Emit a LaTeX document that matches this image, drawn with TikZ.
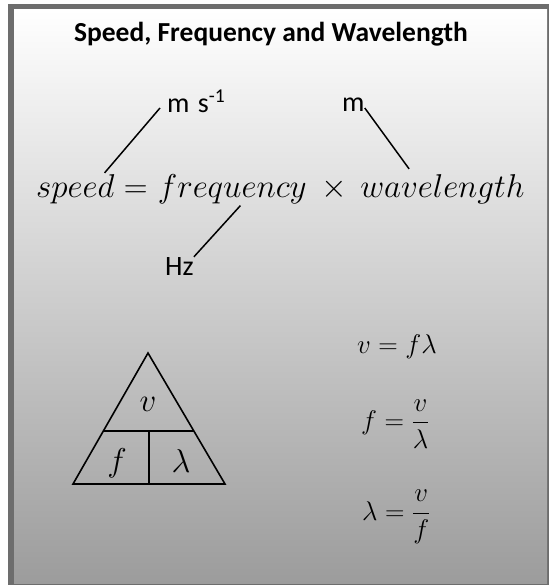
\RequirePackage{fix-cm}
\documentclass[tikz,border=0pt]{standalone}
\usepackage{amsmath}
\usepackage{fontspec}
\newfontfamily\calibri{Carlito}
\usepackage{tikz}
\usetikzlibrary{positioning, calc}
\definecolor{framegray}{HTML}{6D6D6D}
\definecolor{shadegray}{HTML}{9C9C9C}
\tikzset{
  titletext/.style={inner sep=0pt, font=\calibri\bfseries\fontsize{27.5}{32}\selectfont},
  unit/.style={inner sep=0pt, font=\calibri\fontsize{28}{32}\selectfont},
  word/.style={inner sep=0pt, anchor=base west, font=\fontsize{33}{39}\selectfont},
  tri/.style={inner sep=0pt, font=\fontsize{33}{38}\selectfont},
  formula/.style={inner sep=0pt, font=\fontsize{27}{32}\selectfont},
  link/.style={line width=1.5pt, black},
  edge/.style={line width=1.6pt, black},
}

\begin{document}
\begin{tikzpicture}[x=1pt, y=-1pt]
  \useasboundingbox (0,0) rectangle (555,585);
  % frame and shaded panel
  \fill[framegray] (8,4) rectangle (549,585);
  \shade[top color=white, bottom color=shadegray] (14,10) rectangle (547,583);
  % title
  \node[titletext, anchor=base] (title) at (271,42) {Speed, Frequency and Wavelength};
  % word equation
  \node[word] (speed) at (36,197) {$speed$};
  \node[word] (equals) at ([xshift=9pt]speed.base east) {$=$};
  \node[word] (freq) at ([xshift=10pt]equals.base east) {$frequency$};
  \node[word] (times) at ([xshift=14pt]freq.base east) {$\times$};
  \node[word] (wave) at ([xshift=13pt]times.base east) {$wavelength$};
  % units
  \node[unit, anchor=base west] (speedunit) at (167,113) {m\hspace{0.3em}s\textsuperscript{-1}};
  \node[unit, anchor=base west] (waveunit) at (342,112) {m};
  \node[unit, anchor=base west] (frequnit) at (165,275) {Hz};
  % unit links
  \draw[link] ([shift={(-7,-5)}]speedunit.base west) -- ([shift={(-10,-1)}]speed.north east);
  \draw[link] ([shift={(0,-4)}]waveunit.base east) -- ([shift={(49,-5)}]wave.north west);
  \draw[link] (frequnit.north east) -- ([shift={(8,2)}]freq.south);
  % triangle
  \coordinate (apex) at (148,353);
  \coordinate (baseL) at (73,484);
  \coordinate (baseR) at (225,484);
  \coordinate (midL) at ($(apex)!0.595!(baseL)$);
  \coordinate (midR) at ($(apex)!0.595!(baseR)$);
  \coordinate (baseM) at ($(baseL)!0.5!(baseR)$);
  \draw[edge, line join=miter] (apex) -- (baseL) -- (baseR) -- cycle;
  \draw[edge] (midL) -- (midR);
  \draw[edge] (baseM) -- (baseM |- midL);
  \node[tri] (vtop) at (148,404) {$v$};
  \node[tri] (fleft) at (117,463) {$f$};
  \node[tri] (lright) at (181,461) {$\lambda$};
  % rearranged formulas
  \node[formula, anchor=base] (eqv) at (397,353) {$v = f\lambda$};
  \node[formula, anchor=west] (eqf) at (361,424) {$f = \dfrac{v}{\lambda}$};
  \node[formula, anchor=west] (eqlam) at (362,517) {$\lambda = \dfrac{v}{f}$};
\end{tikzpicture}
\end{document}
